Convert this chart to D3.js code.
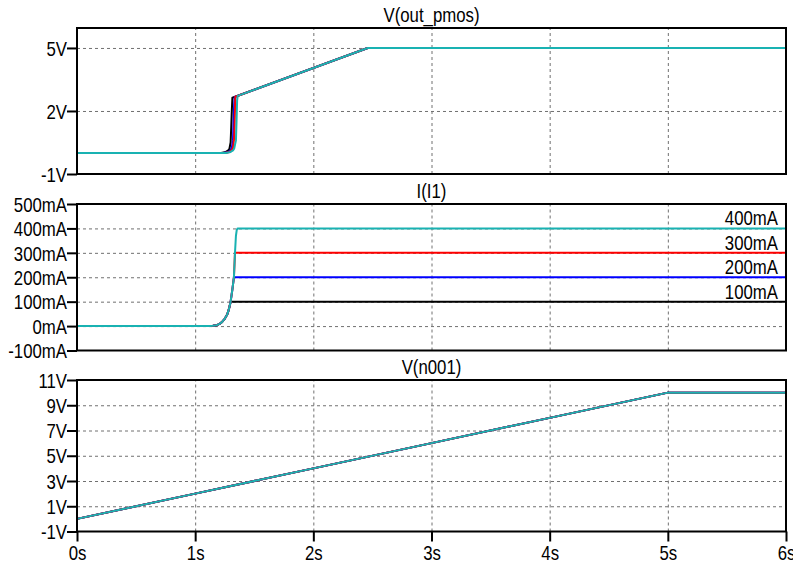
<!DOCTYPE html>
<html lang="en">
<head>
<meta charset="UTF-8">
<script src="https://d3js.org/d3.v7.min.js"></script>
<style>
  body { margin: 0; background: #fff; }
  svg text { font-family: "Liberation Sans", Arial, sans-serif; font-size: 20px; fill: #000; }
  .grid line { stroke: #707070; stroke-width: 1; stroke-dasharray: 3,3; }
  .grid path { display: none; }
  .axis path { display: none; }
  .axis line { stroke: #000; stroke-width: 2; }
</style>
</head>
<body>
<svg id="svg" width="793" height="564"></svg>
<script>
// x axis (seconds)
const timeTicks = [0, 1, 2, 3, 4, 5, 6]

// .step values of I1, labelled on the current panel
const stepLabels = ['100mA', '200mA', '300mA', '400mA']
const stepLevels = [100, 200, 300, 400]

// V(out_pmos), [time s, volts], one array per step
const outPmos100 = [[0, 0], [1.22, 0], [1.26, 0.05], [1.28, 0.12], [1.29, 0.2], [1.30, 0.5], [1.305, 1.2], [1.31, 2.0], [1.315, 2.63], [2.46, 5], [6, 5]]
const outPmos200 = [[0, 0], [1.24, 0], [1.28, 0.05], [1.30, 0.14], [1.31, 0.25], [1.32, 0.6], [1.325, 1.5], [1.33, 2.3], [1.335, 2.67], [2.46, 5], [6, 5]]
const outPmos300 = [[0, 0], [1.25, 0], [1.29, 0.05], [1.31, 0.14], [1.32, 0.25], [1.33, 0.7], [1.335, 1.6], [1.34, 2.68], [2.46, 5], [6, 5]]
const outPmos400 = [[0, 0], [1.26, 0], [1.30, 0.05], [1.32, 0.12], [1.33, 0.2], [1.345, 0.6], [1.35, 1.5], [1.355, 2.5], [1.36, 2.72], [2.46, 5], [6, 5]]
const outPmosTicks = [-1, 2, 5]

// I(I1) in mA
const i1Step100 = [[0, 0], [1.12, 0], [1.15, 1], [1.18, 3], [1.21, 10], [1.23, 18], [1.25, 30], [1.27, 46], [1.28, 60], [1.29, 78], [1.30, 100], [6, 100]]
const i1Step200 = [[0, 0], [1.12, 0], [1.15, 1], [1.18, 3], [1.21, 10], [1.23, 18], [1.25, 30], [1.27, 46], [1.28, 60], [1.29, 78], [1.30, 100], [1.315, 150], [1.328, 200], [6, 200]]
const i1Step300 = [[0, 0], [1.12, 0], [1.15, 1], [1.18, 3], [1.21, 10], [1.23, 18], [1.25, 30], [1.27, 46], [1.28, 60], [1.29, 78], [1.30, 100], [1.315, 150], [1.328, 200], [1.337, 300], [6, 300]]
const i1Step400 = [[0, 0], [1.12, 0], [1.15, 1], [1.18, 3], [1.21, 10], [1.23, 18], [1.25, 30], [1.27, 46], [1.28, 60], [1.29, 78], [1.30, 100], [1.315, 150], [1.328, 200], [1.337, 300], [1.345, 370], [1.352, 394], [1.36, 400], [6, 400]]
const i1Ticks = [-100, 0, 100, 200, 300, 400, 500]

// V(n001), the input ramp (same for every step)
const n001Ramp = [[0, 0], [1, 2], [2, 4], [3, 6], [4, 8], [5, 10], [6, 10]]
const n001Ticks = [-1, 1, 3, 5, 7, 9, 11]

const traceColors = ['#000000', '#0000ff', '#ff0000', '#19b2b2']
const squeeze = 0.84 // labels are narrow in the original

const svg = d3.select('#svg')
const left = 77, right = 786

const xscale = d3.scaleLinear()
    .domain([0, 6])
    .range([left, right])

const panels = [
    { title: 'V(out_pmos)', top: 28, bottom: 174, domain: [-1, 5.95], ticks: outPmosTicks, unit: 'V',
      series: [outPmos100, outPmos200, outPmos300, outPmos400] },
    { title: 'I(I1)', top: 204, bottom: 350.5, domain: [-100, 500], ticks: i1Ticks, unit: 'mA',
      series: [i1Step100, i1Step200, i1Step300, i1Step400] },
    { title: 'V(n001)', top: 380, bottom: 531.5, domain: [-1, 11], ticks: n001Ticks, unit: 'V',
      series: [n001Ramp, n001Ramp, n001Ramp, n001Ramp] }
]

panels.forEach((p, pi) => {
    const yscale = d3.scaleLinear()
        .domain(p.domain)
        .range([p.bottom, p.top])

    const g = svg.append('g')

    // horizontal grid, only between the borders
    const innerY = p.ticks.filter(t => yscale(t) > p.top + 1 && yscale(t) < p.bottom - 1)
    g.append('g')
        .attr('class', 'grid')
        .attr('transform', `translate(${left}, 0)`)
        .call(d3.axisLeft(yscale).tickValues(innerY).tickSize(-(right - left)).tickFormat(''))

    // vertical grid
    g.append('g')
        .attr('class', 'grid')
        .attr('transform', `translate(0, ${p.bottom})`)
        .call(d3.axisBottom(xscale).tickValues(timeTicks.slice(1, -1)).tickSize(-(p.bottom - p.top)).tickFormat(''))

    // traces
    const line = d3.line()
        .x(d => xscale(d[0]))
        .y(d => yscale(d[1]))
    p.series.forEach((s, i) => {
        g.append('path')
            .datum(s)
            .attr('d', line)
            .attr('fill', 'none')
            .attr('stroke', traceColors[i])
            .attr('stroke-width', 2)
            .attr('stroke-linejoin', 'round')
    })

    // step labels on the current panel
    if (pi === 1) {
        g.selectAll('text.step')
            .data(stepLabels)
            .enter()
            .append('text')
            .attr('class', 'step')
            .attr('text-anchor', 'end')
            .attr('transform', (d, i) => `translate(${right - 8}, ${yscale(stepLevels[i]) - 3}) scale(${squeeze}, 1)`)
            .text(d => d)
    }

    // border
    g.append('rect')
        .attr('x', left)
        .attr('y', p.top)
        .attr('width', right - left)
        .attr('height', p.bottom - p.top)
        .attr('fill', 'none')
        .attr('stroke', '#000')
        .attr('stroke-width', 2)

    // left axis
    const leftAxis = d3.axisLeft(yscale)
        .tickValues(p.ticks)
        .tickSize(10)
        .tickPadding(0)
        .tickFormat(d => d + p.unit)
    const ax = g.append('g')
        .attr('class', 'axis')
        .attr('transform', `translate(${left}, 0)`)
        .call(leftAxis)
    ax.selectAll('text')
        .attr('x', -10 / squeeze)
        .attr('dy', '0.36em')
        .attr('transform', `scale(${squeeze}, 1)`)
        .attr('fill', '#000')

    // title
    g.append('text')
        .attr('text-anchor', 'middle')
        .attr('transform', `translate(${(left + right) / 2}, ${p.top - 6}) scale(${squeeze}, 1)`)
        .text(p.title)

    // time axis under the last panel
    if (pi === panels.length - 1) {
        const bottomAxis = d3.axisBottom(xscale)
            .tickValues(timeTicks)
            .tickSize(10)
            .tickPadding(0)
            .tickFormat(d => d + 's')
        const bx = g.append('g')
            .attr('class', 'axis')
            .attr('transform', `translate(0, ${p.bottom})`)
            .call(bottomAxis)
        bx.selectAll('text')
            .attr('y', 29)
            .attr('dy', 0)
            .attr('transform', `scale(${squeeze}, 1)`)
            .attr('fill', '#000')
    }
})
</script>
</body>
</html>
